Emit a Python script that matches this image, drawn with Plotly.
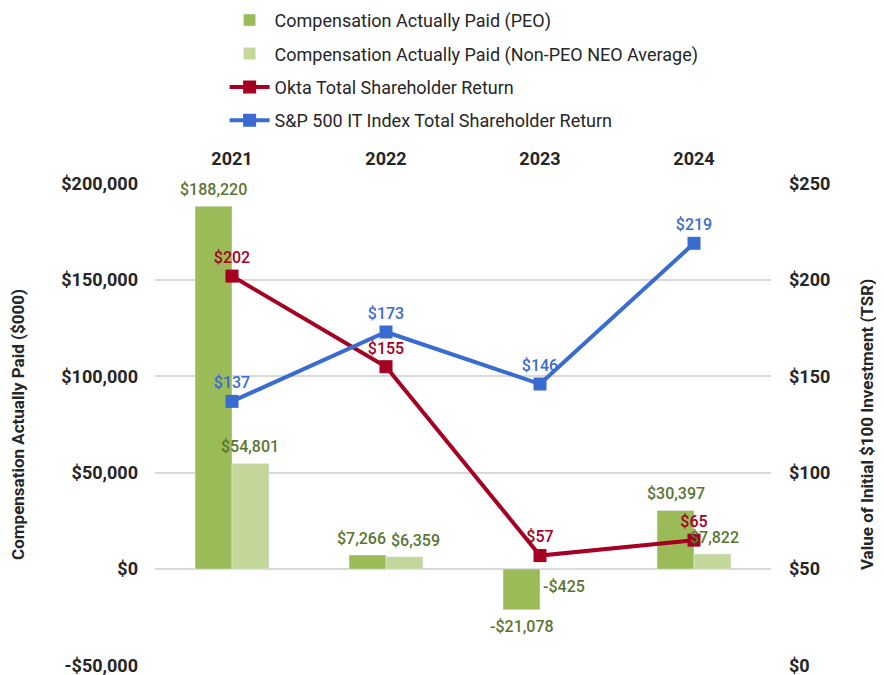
import plotly.graph_objects as go

years = ["2021", "2022", "2023", "2024"]
cap_peo = [188220, 7266, -21078, 30397]
cap_non_peo = [54801, 6359, -425, 7822]
okta_tsr = [202, 155, 57, 65]
sp500_it_tsr = [137, 173, 146, 219]

left_ticks = [-50000, 0, 50000, 100000, 150000, 200000]
right_ticks = [0, 50, 100, 150, 200, 250]

FONT = "Roboto"
GREEN_LABEL = "#5b7530"
RED = "#a50021"
BLUE = "#3a6bd1"

# plot area size in px (page has an 8px body margin, so figure is shrunk by 8)
PLOT_W, PLOT_H = 616, 483
ML, MT = 147, 175
BARGAP = 0.52
bar_offset = PLOT_W / len(years) * (1 - BARGAP) / 4
# extra sideways nudge of bar labels so the 2022 pair doesn't collide
peo_nudge = [0, -6, 0, 0]
non_peo_nudge = [0, 11, 6, 2]
# tiny padding so the edge gridlines are drawn
PAD = 300


def money(v):
    return ("-$" if v < 0 else "$") + f"{abs(v):,}"


fig = go.Figure()

fig.add_trace(go.Bar(
    x=years, y=cap_peo, name="Compensation Actually Paid (PEO)",
    marker_color="#9bbb59", legendgroup="a",
))
fig.add_trace(go.Bar(
    x=years, y=cap_non_peo, name="Compensation Actually Paid (Non-PEO NEO Average)",
    marker_color="#c4d79b", legendgroup="b",
))
fig.add_trace(go.Scatter(
    x=years, y=okta_tsr, name="Okta Total Shareholder Return",
    mode="lines+markers+text", yaxis="y2",
    line=dict(color=RED, width=4), marker=dict(symbol="square", size=13, color=RED),
    text=[money(v) for v in okta_tsr], textposition="top center",
    textfont=dict(color=RED, size=16, weight=500), legendgroup="c", cliponaxis=False,
))
fig.add_trace(go.Scatter(
    x=years, y=sp500_it_tsr, name="S&P 500 IT Index Total Shareholder Return",
    mode="lines+markers+text", yaxis="y2",
    line=dict(color=BLUE, width=4), marker=dict(symbol="square", size=13, color=BLUE),
    text=[money(v) for v in sp500_it_tsr], textposition="top center",
    textfont=dict(color=BLUE, size=16, weight=500), legendgroup="d", cliponaxis=False,
))

# bar value labels (x given as category index)
for vals, side, nudge in [(cap_peo, -1, peo_nudge), (cap_non_peo, 1, non_peo_nudge)]:
    for i, (v, n) in enumerate(zip(vals, nudge)):
        fig.add_annotation(
            x=i, y=v, xref="x", yref="y", text=money(v), showarrow=False,
            xshift=side * bar_offset + n,
            yanchor="bottom" if v >= 0 else "top",
            yshift=5 if v >= 0 else -5,
            font=dict(color=GREEN_LABEL, size=16, weight=500),
        )

fig.update_layout(
    width=ML + PLOT_W + 113, height=MT + PLOT_H + 9,
    margin=dict(l=ML, r=113, t=MT, b=9, autoexpand=False),
    plot_bgcolor="white", paper_bgcolor="white",
    font=dict(family=FONT, size=16, color="#262626"),
    barmode="group", bargap=BARGAP, bargroupgap=0,
    showlegend=True,
    legend=dict(
        x=0.113, y=1.375, xanchor="left", yanchor="top",
        orientation="v", tracegroupgap=7,
        font=dict(size=18, color="#262626"), itemwidth=40,
    ),
    xaxis=dict(
        type="category", range=[-0.5, len(years) - 0.5],
        side="top", showgrid=False, showline=False, ticks="",
        tickfont=dict(size=18, weight="bold"), automargin=False,
        ticklabelstandoff=13,
    ),
    yaxis=dict(
        range=[-50000 - PAD, 200000 + PAD], tickvals=left_ticks,
        ticktext=[money(v) for v in left_ticks],
        showgrid=True, gridcolor="#d9d9d9", gridwidth=1.5,
        zeroline=True, zerolinecolor="#d9d9d9", zerolinewidth=1.5,
        tickfont=dict(size=18, weight="bold"), automargin=False,
        ticklabelstandoff=16, ticklabeloverflow="allow",
        title=dict(text="Compensation Actually Paid ($000)",
                   font=dict(size=17, weight="bold"), standoff=34),
    ),
    yaxis2=dict(
        range=[0 - PAD / 1000, 250 + PAD / 1000], tickvals=right_ticks,
        ticktext=[money(v) for v in right_ticks],
        overlaying="y", side="right", showgrid=False, zeroline=False,
        tickfont=dict(size=18, weight="bold"), automargin=False,
        ticklabelstandoff=17, ticklabeloverflow="allow",
        title=dict(text="Value of Initial $100 Investment (TSR)",
                   font=dict(size=17, weight="bold"), standoff=31),
    ),
)

fig.write_html("out.html")
